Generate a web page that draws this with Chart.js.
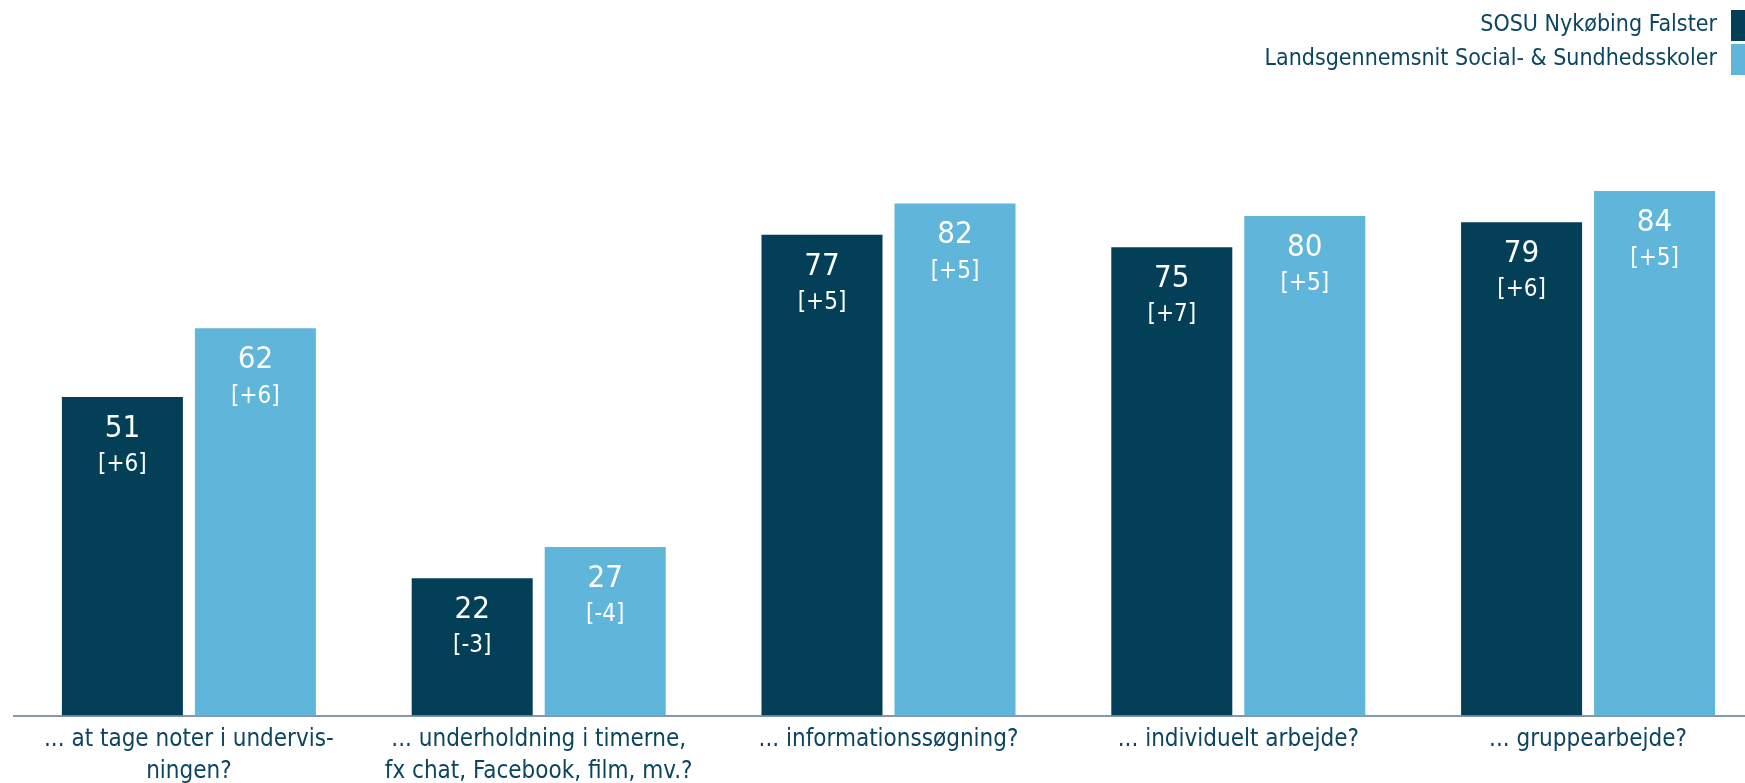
<!DOCTYPE html>
<html>
<head>
<meta charset="utf-8">
<script src="https://cdn.jsdelivr.net/npm/chart.js@4.4.0/dist/chart.umd.min.js"></script>
<style>
  html, body { margin: 0; padding: 0; background: #fff; overflow: hidden; width: 1745px; height: 783px; }
  #wrap { position: relative; width: 1780px; height: 783px; }
</style>
</head>
<body>
<div id="wrap"><canvas id="c" width="1780" height="783"></canvas></div>
<script>
const categories = [
  ['... at tage noter i undervis-', 'ningen?'],
  ['... underholdning i timerne,', 'fx chat, Facebook, film, mv.?'],
  '... informationssøgning?',
  '... individuelt arbejde?',
  '... gruppearbejde?'
];
const seriesNames = ['SOSU Nykøbing Falster', 'Landsgennemsnit Social- & Sundhedsskoler'];
const schoolValues = [51, 22, 77, 75, 79];
const nationalValues = [62, 27, 82, 80, 84];
const schoolChanges = ['[+6]', '[-3]', '[+5]', '[+7]', '[+6]'];
const nationalChanges = ['[+6]', '[-4]', '[+5]', '[+5]', '[+5]'];

const DARK = '#033F57';
const LIGHT = '#5FB5DA';
const TEXT = '#0B4560';
const FONT = "'DejaVu Sans Condensed', 'DejaVu Sans', sans-serif";

const changes = [schoolChanges, nationalChanges];

const labelPlugin = {
  id: 'barLabels',
  afterDatasetsDraw(chart) {
    const ctx = chart.ctx;
    ctx.save();
    ctx.fillStyle = '#ffffff';
    ctx.textAlign = 'center';
    ctx.textBaseline = 'middle';
    chart.data.datasets.forEach((ds, di) => {
      const meta = chart.getDatasetMeta(di);
      meta.data.forEach((bar, i) => {
        ctx.font = "31px " + FONT;
        ctx.fillText(String(ds.data[i]), bar.x, bar.y + 32);
        ctx.font = "24px " + FONT;
        ctx.fillText(changes[di][i], bar.x, bar.y + 68);
      });
    });
    ctx.restore();
  }
};

const legendPlugin = {
  id: 'customLegend',
  afterDraw(chart) {
    const ctx = chart.ctx;
    ctx.save();
    ctx.font = "23px " + FONT;
    ctx.textAlign = 'right';
    ctx.textBaseline = 'middle';
    const rows = [{ y: 10, c: DARK }, { y: 44, c: LIGHT }];
    chart.data.datasets.forEach((ds, di) => {
      const r = rows[di];
      ctx.fillStyle = ds.backgroundColor;
      ctx.fillRect(1731, r.y, 16, 31);
      ctx.fillStyle = TEXT;
      ctx.fillText(ds.label, 1717, r.y + 15);
    });
    ctx.restore();
  }
};

new Chart(document.getElementById('c'), {
  type: 'bar',
  data: {
    labels: categories,
    datasets: [
      { label: seriesNames[0], data: schoolValues, backgroundColor: DARK },
      { label: seriesNames[1], data: nationalValues, backgroundColor: LIGHT }
    ]
  },
  options: {
    responsive: false,
    animation: false,
    events: [],
    categoryPercentage: 0.7605,
    barPercentage: 0.9098,
    layout: { padding: { top: 91, left: 14, right: 17, bottom: 0 } },
    plugins: { legend: { display: false }, tooltip: { enabled: false } },
    scales: {
      x: {
        grid: { display: false, drawTicks: false },
        border: { display: true, color: '#8497B0', width: 2 },
        afterFit(scale) { scale.height -= 13; },
        ticks: {
          color: TEXT,
          font: { family: FONT, size: 24, lineHeight: 1.3 },
          padding: 9,
          maxRotation: 0,
          autoSkip: false
        }
      },
      y: {
        display: false,
        min: 0,
        max: 100
      }
    }
  },
  plugins: [labelPlugin, legendPlugin]
});
</script>
</body>
</html>
